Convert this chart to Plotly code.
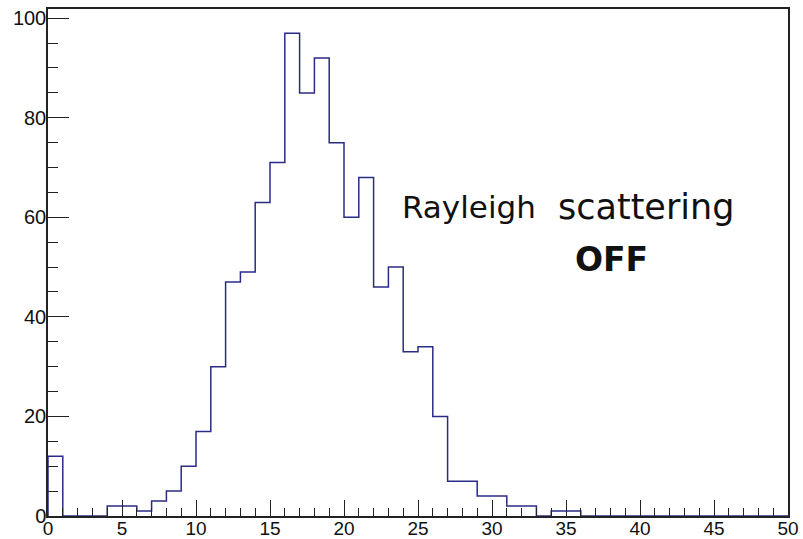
import plotly.graph_objects as go

# Histogram: 50 bins of width 1 from 0 to 50
bin_edges = list(range(0, 51))
counts = [12, 0, 0, 0, 2, 2, 1, 3, 5, 10,
          17, 30, 47, 49, 63, 71, 97, 85, 92, 75,
          60, 68, 46, 50, 33, 34, 20, 7, 7, 4,
          4, 2, 2, 0, 1, 1, 0, 0, 0, 0,
          0, 0, 0, 0, 0, 0, 0, 0, 0, 0]
x_ticks = [0, 5, 10, 15, 20, 25, 30, 35, 40, 45, 50]
y_ticks = [0, 20, 40, 60, 80, 100]

xs = [bin_edges[0]] + bin_edges
ys = [0] + counts + [counts[-1]]

fig = go.Figure()
fig.add_trace(go.Scatter(x=xs, y=ys, mode="lines", line_shape="hv",
                         line=dict(color="#2b2b86", width=1.5),
                         hoverinfo="skip", showlegend=False))

FONT = "Liberation Sans, Arial, Helvetica, sans-serif"
ANN_FONT = "DejaVu Sans, sans-serif"
fig.update_layout(
    width=803, height=539,
    margin=dict(l=48, r=15, t=9, b=23, pad=0),
    paper_bgcolor="white", plot_bgcolor="white",
    font=dict(family=FONT, size=20, color="#111"),
    xaxis=dict(range=[0, 50], tickvals=x_ticks, ticks="inside", ticklen=16,
               tickwidth=1.3, tickcolor="#222", showline=True, mirror=True,
               linecolor="#222", linewidth=1.5, showgrid=False, zeroline=False,
               automargin=False, ticklabelstandoff=-6,
               minor=dict(dtick=1, tick0=0, ticks="inside", ticklen=8,
                          tickwidth=1.3, tickcolor="#222", showgrid=False),
               tickfont=dict(size=19, family=FONT)),
    yaxis=dict(range=[0, 101.85], tickvals=y_ticks, ticks="inside", ticklen=21,
               tickwidth=1.3, tickcolor="#222", showline=True, mirror=True,
               linecolor="#222", linewidth=1.5, showgrid=False, zeroline=False,
               automargin=False,
               minor=dict(dtick=5, tick0=0, ticks="inside", ticklen=10,
                          tickwidth=1.3, tickcolor="#222", showgrid=False),
               tickfont=dict(size=20, family=FONT), ticklabelstandoff=-4),
)

fig.add_annotation(x=28.44, y=62.0, xref="x", yref="y", text="Rayleigh",
                   showarrow=False, font=dict(size=31, family=ANN_FONT, color="#111"),
                   xanchor="center", yanchor="middle")
fig.add_annotation(x=40.38, y=62.0, xref="x", yref="y", text="scattering",
                   showarrow=False, font=dict(size=35, family=ANN_FONT, color="#111"),
                   xanchor="center", yanchor="middle")
fig.add_annotation(x=38.09, y=51.6, xref="x", yref="y", text="<b>OFF</b>",
                   showarrow=False, font=dict(size=33, family=ANN_FONT, color="#111"),
                   xanchor="center", yanchor="middle")

fig.write_html("out.html", config={"displayModeBar": False},
               post_script="document.body.style.margin='0px';")
